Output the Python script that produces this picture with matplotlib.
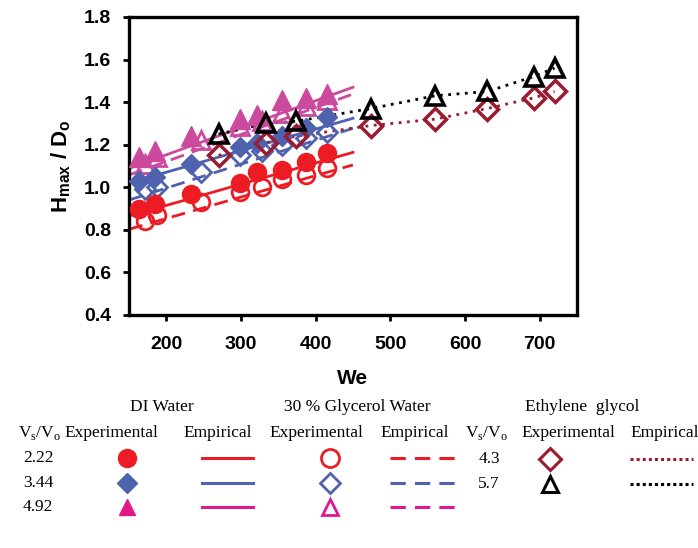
import matplotlib.pyplot as plt

# Weber numbers and H_max/D_o
we_di = [164, 185, 233, 299, 321, 355, 387, 415]
di_222 = [0.90, 0.92, 0.97, 1.02, 1.07, 1.08, 1.12, 1.16]
di_344 = [1.03, 1.05, 1.11, 1.19, 1.21, 1.24, 1.28, 1.33]
di_492 = [1.14, 1.17, 1.24, 1.32, 1.34, 1.41, 1.42, 1.44]

we_gw = [171, 187, 247, 299, 328, 355, 387, 415]
gw_222 = [0.84, 0.87, 0.93, 0.98, 1.00, 1.04, 1.06, 1.09]
gw_344 = [0.99, 1.00, 1.07, 1.15, 1.17, 1.20, 1.23, 1.26]
gw_492 = [1.11, 1.14, 1.22, 1.29, 1.31, 1.35, 1.38, 1.41]

we_eg = [270, 334, 374, 474, 560, 630, 692, 720]
eg_43 = [1.15, 1.21, 1.24, 1.29, 1.32, 1.37, 1.42, 1.45]
eg_57 = [1.25, 1.30, 1.31, 1.37, 1.43, 1.45, 1.52, 1.56]

# empirical correlation lines (end points)
we_fit = [150, 450]
fit_di_222 = [0.865, 1.164]
fit_di_344 = [1.02, 1.324]
fit_di_492 = [1.089, 1.470]
fit_gw_222 = [0.803, 1.105]
fit_gw_344 = [0.94, 1.277]
fit_gw_492 = [1.058, 1.438]
fit_eg_43 = eg_43
fit_eg_57 = eg_57

red = '#ED1C24'
blue = '#4F62AE'
pink = '#CC4A9E'
pink_leg = '#E0188C'
maroon = '#9B1B30'

plt.rcParams['font.family'] = ['Liberation Sans', 'DejaVu Sans']
plt.rcParams['mathtext.fontset'] = 'custom'
plt.rcParams['mathtext.rm'] = 'Liberation Serif'
plt.rcParams['mathtext.bf'] = 'Liberation Sans:bold'

fig = plt.figure(figsize=(6.98, 5.48), dpi=100)
ax = fig.add_axes([0.1848, 0.4252, 0.6418, 0.5438])

dash = (0, (5, 3))
dot = (0, (1, 2))

ax.plot(we_fit, fit_di_222, color=red, lw=2, zorder=2)
ax.plot(we_fit, fit_di_344, color=blue, lw=2, zorder=2)
ax.plot(we_fit, fit_di_492, color=pink, lw=2, zorder=2)
ax.plot(we_fit, fit_gw_222, color=red, lw=2, ls=dash, zorder=2)
ax.plot(we_fit, fit_gw_344, color=blue, lw=2, ls=dash, zorder=2)
ax.plot(we_fit, fit_gw_492, color=pink, lw=2, ls=dash, zorder=2)
ax.plot(we_eg, fit_eg_43, color=maroon, lw=2, ls=dot, zorder=2)
ax.plot(we_eg, fit_eg_57, color='black', lw=2, ls=dot, zorder=2)

ax.plot(we_gw, gw_492, '^', ms=13, mfc='none', mec=pink, mew=2, ls='none', zorder=3)
ax.plot(we_gw, gw_344, 'D', ms=10, mfc='none', mec=blue, mew=2, ls='none', zorder=3)
ax.plot(we_gw, gw_222, 'o', ms=12, mfc='none', mec=red, mew=2, ls='none', zorder=3)
ax.plot(we_di, di_492, '^', ms=14, color=pink, ls='none', zorder=4)
ax.plot(we_di, di_344, 'D', ms=10.5, color=blue, ls='none', zorder=4)
ax.plot(we_di, di_222, 'o', ms=13, color=red, ls='none', zorder=4)
ax.plot(we_eg, eg_43, 'D', ms=11, mfc='none', mec=maroon, mew=2.5, ls='none', zorder=5)
ax.plot(we_eg, eg_57, '^', ms=13, mfc='none', mec='black', mew=2.6, ls='none', zorder=5)

ax.set_xlim(150, 750)
ax.set_ylim(0.4, 1.8)
ax.set_xticks([200, 300, 400, 500, 600, 700])
ax.set_yticks([0.4, 0.6, 0.8, 1.0, 1.2, 1.4, 1.6, 1.8])
ax.set_yticklabels(['0.4', '0.6', '0.8', '1.0', '1.2', '1.4', '1.6', '1.8'])
for s in ax.spines.values():
    s.set_linewidth(2.4)
ax.tick_params(direction='out', length=4, width=2, labelsize=14)
ax.tick_params(axis='y', pad=9)
ax.tick_params(axis='x', pad=11)
for lab in ax.get_xticklabels() + ax.get_yticklabels():
    lab.set_fontweight('bold')
ax.set_xlabel('We', fontsize=15, fontweight='bold', labelpad=12)
ax.set_ylabel(r'$\mathbf{H_{max}}$ / $\mathbf{D_o}$', fontsize=16, fontweight='bold', labelpad=8)

# legend table below the chart, in figure pixel coordinates
lg = fig.add_axes([0, 0, 1, 1])
lg.set_xlim(0, 698)
lg.set_ylim(548, 0)
lg.axis('off')
serif = dict(family='Liberation Serif', fontsize=12.5, ha='center', va='center')

lg.text(162, 407, 'DI Water', **serif)
lg.text(357, 407, '30 % Glycerol Water', **serif)
lg.text(582, 407, 'Ethylene  glycol', **serif)
hdr_x = [40, 111, 218, 316, 415, 487, 568, 665]
hdr = [r'V$_\mathregular{s}$/V$_\mathregular{o}$', 'Experimental', 'Empirical', 'Experimental',
       'Empirical', r'V$_\mathregular{s}$/V$_\mathregular{o}$', 'Experimental', 'Empirical']
for x, t in zip(hdr_x, hdr):
    lg.text(x, 433, t, **serif)

rows_y = [458, 483, 507]
ratios = ['2.22', '3.44', '4.92']
cols = [red, blue, pink_leg]
mk = ['o', 'D', '^']
ms_f = [13, 10, 12]
for y, r, c, m, s in zip(rows_y, ratios, cols, mk, ms_f):
    lg.text(38, y, r, **serif)
    lg.plot([127], [y], m, ms=s, color=c)
    lg.plot([202, 253], [y, y], color=c, lw=2.2)
    lg.plot([330], [y], m, ms=s, mfc='none', mec=c, mew=2)
    lg.plot([390, 456], [y, y], color=c, lw=2.2, ls=dash)

eg_rows = [459, 484]
for y, r, c, m in zip(eg_rows, ['4.3', '5.7'], [maroon, 'black'], ['D', '^']):
    lg.text(489, y, r, **serif)
    lg.plot([550], [y], m, ms=11, mfc='none', mec=c, mew=2.2)
    lg.plot([630, 693], [y, y], color=c, lw=2.2, ls=(0, (1, 1)))

fig.savefig('out.png', dpi=100)
